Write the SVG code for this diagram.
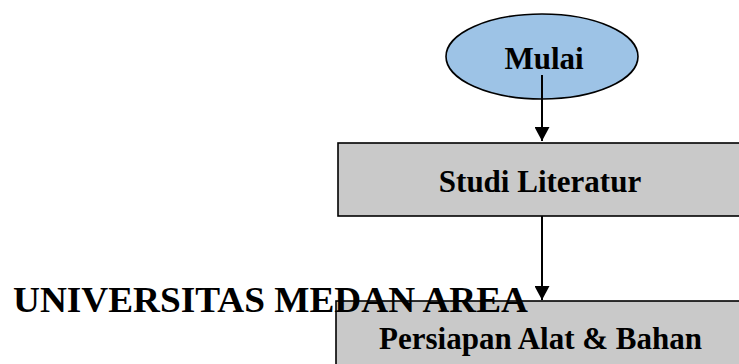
<svg xmlns="http://www.w3.org/2000/svg" width="739" height="364" viewBox="0 0 739 364">
  <style>
    .lbl { font-family: "Liberation Serif", "Times New Roman", serif; font-weight: bold; font-size: 31px; fill: #000; text-anchor: middle; }
    .box { fill: #c9c9c9; stroke: #000; stroke-width: 1.6; }
    .term { fill: #9dc3e6; stroke: #000; stroke-width: 1.6; }
    .conn { stroke: #000; stroke-width: 2; fill: none; marker-end: url(#arrow); }
    .wm { font-family: "Liberation Serif", "Times New Roman", serif; font-weight: bold; font-size: 36px; fill: #000; }
  </style>
  <defs>
    <marker id="arrow" markerUnits="userSpaceOnUse" markerWidth="16" markerHeight="15" refX="14" refY="7.5" orient="auto">
      <path d="M0,0 L14,7.5 L0,15 Z" fill="#000"/>
    </marker>
  </defs>
  <rect width="739" height="364" fill="#fff"/>
  <g id="node-mulai">
    <ellipse class="term" cx="542" cy="56.5" rx="96" ry="42.5"/>
    <text class="lbl" x="544" y="68.5">Mulai</text>
  </g>
  <g id="node-studi">
    <rect class="box" x="338" y="143" width="410" height="73"/>
    <text class="lbl" x="540" y="191.5">Studi Literatur</text>
  </g>
  <g id="node-persiapan">
    <rect class="box" x="336" y="301" width="412" height="80"/>
    <text class="lbl" x="540.5" y="348.5">Persiapan Alat &amp; Bahan</text>
  </g>
  <text class="wm" x="13" y="311.5" textLength="515" lengthAdjust="spacingAndGlyphs">UNIVERSITAS MEDAN AREA</text>
  <g id="connectors">
    <line class="conn" x1="542" y1="75" x2="542" y2="141"/>
    <line class="conn" x1="542" y1="216" x2="542" y2="300"/>
  </g>
</svg>
